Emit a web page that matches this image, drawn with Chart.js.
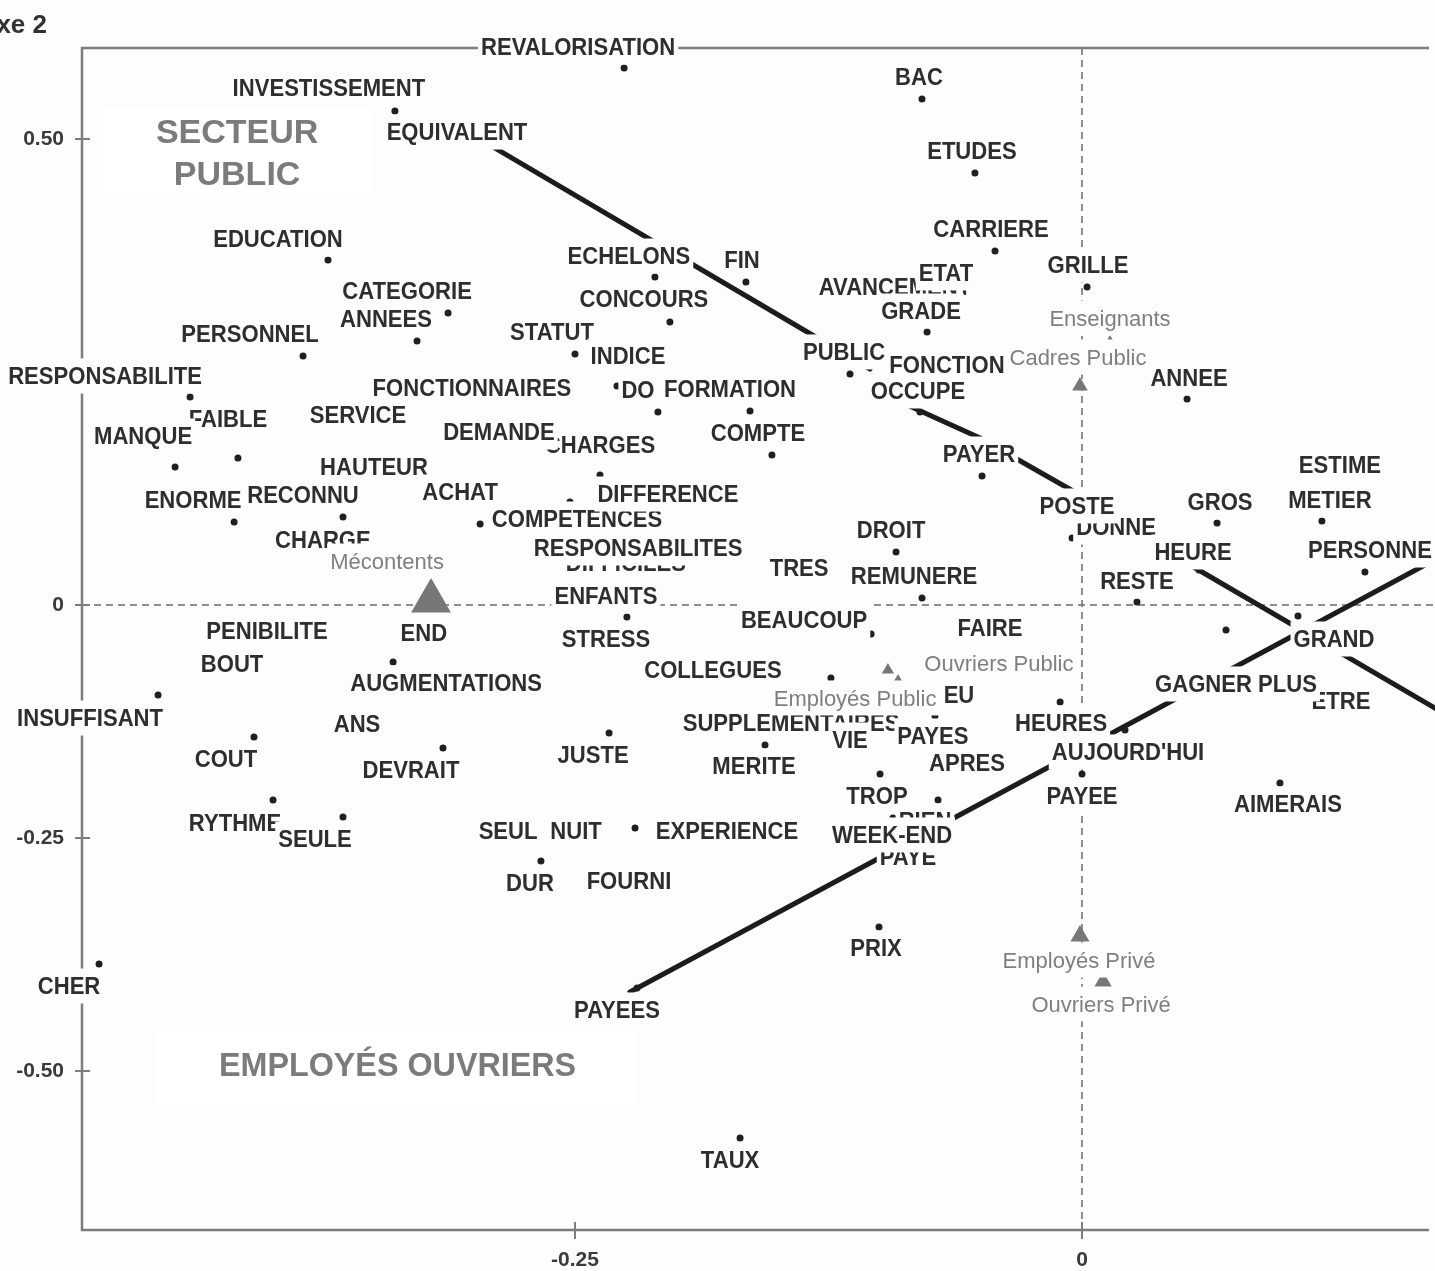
<!DOCTYPE html>
<html lang="fr">
<head>
<meta charset="utf-8">
<title>Axe 2</title>
<script src="https://cdn.jsdelivr.net/npm/chart.js@4.4.1/dist/chart.umd.min.js"></script>
<style>
  html, body { margin: 0; padding: 0; background: #fdfdfd; }
  #plan { display: block; }
</style>
</head>
<body>
<canvas id="plan" width="1435" height="1271"></canvas>
<script>
// words of the factorial plane (coordinates on axis 1 / axis 2), in drawing order
const words = [
  "REVALORISATION", "INVESTISSEMENT", "EQUIVALENT", "EDUCATION", "CATEGORIE", "ANNEES",
  "PERSONNEL", "RESPONSABILITE", "FAIBLE", "MANQUE", "ENORME", "RECONNU", "SERVICE",
  "HAUTEUR", "ACHAT", "CHARGE", "FONCTIONNAIRES", "CHARGES", "DEMANDE", "COMPETENCES",
  "DIFFERENCE", "DIFFICILES", "RESPONSABILITES", "ENFANTS", "STRESS", "STATUT", "INDICE",
  "ECHELONS", "CONCOURS", "FIN", "DO", "FORMATION", "COMPTE", "AVANCEMENT", "ETAT", "GRADE",
  "PUBLIC", "FONCTION", "OCCUPE", "PAYER", "BAC", "ETUDES", "CARRIERE", "GRILLE", "ANNEE",
  "DONNE", "POSTE", "GROS", "ESTIME", "METIER", "PERSONNE", "HEURE", "RESTE", "GRAND",
  "ETRE", "GAGNER PLUS", "HEURES", "AUJOURD'HUI", "PAYEE", "AIMERAIS", "FAIRE", "REMUNERE",
  "DROIT", "TRES", "BEAUCOUP", "COLLEGUES", "SUPPLEMENTAIRES", "EU", "VIE", "MERITE",
  "PAYES", "APRES", "TROP", "RIEN", "PAYE", "WEEK-END", "PRIX", "PAYEES", "TAUX", "SEUL",
  "NUIT", "EXPERIENCE", "DUR", "FOURNI", "JUSTE", "DEVRAIT", "ANS", "AUGMENTATIONS", "END",
  "PENIBILITE", "BOUT", "INSUFFISANT", "COUT", "RYTHME", "SEULE", "CHER"
];
const wordX = [
  -0.2258, -0.3388, -0.3082, -0.3718, -0.3126, -0.3279,
  -0.3841, -0.4398, -0.4162, -0.4472, -0.4181, -0.3644, -0.3570,
  -0.3491, -0.2968, -0.3743, -0.3008, -0.2377, -0.2875, -0.2490,
  -0.2525, -0.2249, -0.2189, -0.2244, -0.2347, -0.2500, -0.2293,
  -0.2106, -0.2032, -0.1657, -0.2091, -0.1637, -0.1529, -0.0932, -0.0671, -0.0764,
  -0.1144, -0.0666, -0.0799, -0.0493, -0.0789, -0.0528, -0.0429, 0.0025, 0.0518,
  -0.0049, -0.0025, 0.0666, 0.1272, 0.1183, 0.1395, 0.0577, 0.0271, 0.1065,
  0.1277, 0.0710, -0.0108, 0.0212, 0.0000, 0.0976, -0.0454, -0.0789,
  -0.0917, -0.1395, -0.1040, -0.1238, -0.1563, -0.0725, -0.1144, -0.1617,
  -0.0735, -0.0567, -0.0996, -0.0710, -0.0858, -0.0932, -0.1001, -0.2194, -0.1686, -0.2830,
  -0.2495, -0.2204, -0.2668, -0.2234, -0.2332, -0.3151, -0.3575, -0.3397, -0.3245,
  -0.4019, -0.4191, -0.4556, -0.4083, -0.3989, -0.3644, -0.4847
];
const wordY = [
  0.5762, 0.5300, 0.5064, 0.3702, 0.3133, 0.2833,
  0.2672, 0.2232, 0.1577, 0.1481, 0.0891, 0.0944, 0.2028,
  0.1470, 0.0869, 0.0687, 0.2318, 0.1395, 0.1845, 0.0912,
  0.1105, 0.0440, 0.0601, -0.0129, -0.0376, 0.2693, 0.2350,
  0.3519, 0.3036, 0.3466, 0.2071, 0.2082, 0.1609, 0.3401, 0.3552, 0.2929,
  0.2479, 0.2564, 0.2071, 0.1384, 0.5429, 0.4635, 0.3798, 0.3412, 0.2210,
  0.0719, 0.1052, 0.0880, 0.1491, 0.0901, 0.0354, 0.0376, 0.0032, -0.0118,
  -0.1041, -0.0268, -0.1041, -0.1341, -0.1813, -0.1910, -0.0258, 0.0075,
  0.0569, 0.0386, -0.0311, -0.0783, -0.1502, -0.1191, -0.1459, -0.1738,
  -0.1416, -0.1706, -0.1813, -0.2092, -0.2715, -0.2285, -0.3455, -0.4109, -0.5719, -0.2436,
  -0.2436, -0.2393, -0.2747, -0.2972, -0.1373, -0.1534, -0.1288, -0.0612, -0.0311,
  -0.0290, -0.0644, -0.0966, -0.1416, -0.2092, -0.2275, -0.3852
];
// where each word's label sits relative to its point (pixels)
const labelShift = [
  [-46, -21], [-66, -23], [0, -1], [-50, -21], [-41, -22], [-31, -22],
  [-53, -22], [-85, -21], [-10, -39], [-32, -31], [-41, -22], [-40, -22], [0, -1],
  [0, -1], [-20, -32], [0, -1], [0, -1], [0, -30], [0, -1], [0, -1],
  [98, -8], [0, -1], [0, -1], [-21, -21], [0, -1], [-23, -22], [11, -30],
  [-26, -21], [-26, -23], [-4, -22], [-20, -22], [-20, -22], [-14, -22], [2, -1], [0, -1], [-6, -21],
  [-6, -22], [0, -1], [-2, -21], [-3, -22], [-3, -22], [-3, -22], [-4, -22], [1, -22], [2, -21],
  [44, -11], [0, -1], [3, -21], [0, -1], [8, -21], [5, -22], [-6, -18], [0, -21], [36, 23],
  [0, -1], [10, 54], [1, 21], [3, 22], [0, 22], [8, 21], [0, -1], [-8, -22],
  [-5, -22], [0, -1], [-67, -14], [-118, -8], [26, -22], [24, -21], [0, -1], [0, -1],
  [0, -1], [0, -1], [-3, 22], [-13, 21], [0, -1], [-1, 17], [-3, 21], [-20, 22], [-10, 22], [0, -1],
  [0, -1], [92, 3], [-11, 22], [0, -1], [-16, 22], [-32, 22], [0, -1], [53, 21], [0, -1],
  [0, -1], [0, -1], [-68, 23], [-28, 22], [-38, 23], [-28, 22], [-30, 22]
];

// supplementary points: groups of respondents
const groups = ["Mécontents", "Enseignants", "Cadres Public", "Ouvriers Public", "Employés Public", "Employés Privé", "Ouvriers Privé"];
const groupX = [-0.3210, 0.0138, -0.0010, -0.0957, -0.0907, -0.0010, 0.0104];
const groupY = [0.0043, 0.2822, 0.2350, -0.0697, -0.0815, -0.3552, -0.4050];
const groupSize = [23, 7, 9, 7, 7, 11, 11];
const groupShift = [[-44, -40], [0, -24], [-2, -29], [111, -7], [-43, 17], [-1, 24], [-2, 21.5]];

// hand drawn trend strokes
const equivalentPublicX = [-0.2894, -0.1045];
const equivalentPublicY = [0.4903, 0.2532];
const occupePosteX = [-0.0873, -0.0503, -0.0010];
const occupePosteY = [0.2157, 0.1792, 0.1180];
const heureEtreX = [0.0533, 0.1790];
const heureEtreY = [0.0429, -0.1170];
const payeesPersonneX = [-0.2229, 0.1691];
const payeesPersonneY = [-0.4152, 0.0429];

// axes
const xTicks = [-0.25, 0];
const yTicks = [0.5, 0.25, 0, -0.25, -0.5];
const xMin = -0.4931, xMax = 0.17406;
const yMin = -0.6706, yMax = 0.59764;

const paper = "#fdfdfd";
const family = '"Liberation Sans", Arial, sans-serif';

function pts(xs, ys) {
  return xs.map((v, i) => ({ x: v, y: ys[i] }));
}

function tag(ctx, text, cx, cy, font, color, sx, boxH) {
  ctx.font = font;
  const w = ctx.measureText(text).width * sx;
  ctx.fillStyle = paper;
  ctx.fillRect(cx - w / 2 - 3, cy - boxH / 2, w + 6, boxH);
  ctx.save();
  ctx.translate(cx, cy + 1.5);
  ctx.scale(sx, 1);
  ctx.fillStyle = color;
  ctx.textAlign = "center";
  ctx.textBaseline = "middle";
  ctx.fillText(text, 0, 0);
  ctx.restore();
}

function seg(ctx, x1, y1, x2, y2) {
  ctx.beginPath();
  ctx.moveTo(x1, y1);
  ctx.lineTo(x2, y2);
  ctx.stroke();
}

// frame, dashed origin lines and crossing tick marks
const framePlugin = {
  id: "frame",
  beforeDatasetsDraw(chart) {
    const { ctx, chartArea: a, scales: { x, y } } = chart;
    const x0 = x.getPixelForValue(0), y0 = y.getPixelForValue(0);
    ctx.save();
    ctx.strokeStyle = "#6a6a6a";
    ctx.lineWidth = 1.5;
    ctx.setLineDash([7, 5]);
    seg(ctx, a.left, y0, a.right, y0);
    seg(ctx, x0, a.top, x0, a.bottom);
    ctx.setLineDash([]);
    ctx.strokeStyle = "#7d7d7d";
    ctx.lineWidth = 2.5;
    ctx.beginPath();
    ctx.moveTo(a.right - 6, a.top);
    ctx.lineTo(a.left, a.top);
    ctx.lineTo(a.left, a.bottom);
    ctx.lineTo(a.right - 6, a.bottom);
    ctx.stroke();
    ctx.lineWidth = 2;
    yTicks.forEach(v => {
      const py = y.getPixelForValue(v);
      seg(ctx, a.left - 7, py, a.left + 8, py);
    });
    xTicks.forEach(v => {
      const px = x.getPixelForValue(v);
      seg(ctx, px, a.bottom - 8, px, a.bottom + 9);
    });
    ctx.restore();
  }
};

// word labels, group labels, quadrant titles, axis name
const labelPlugin = {
  id: "labels",
  afterDatasetsDraw(chart) {
    const { ctx, scales: { x, y } } = chart;
    ctx.save();

    // quadrant titles
    let cx = x.getPixelForValue(-0.4176), cy = y.getPixelForValue(0.4882);
    ctx.fillStyle = "#ffffff";
    ctx.fillRect(cx - 137, cy - 43, 274, 86);
    tag(ctx, "SECTEUR", cx + 2, cy - 18, "bold 34px " + family, "#7b7b7b", 1, 0);
    tag(ctx, "PUBLIC", cx + 2, cy + 24, "bold 34px " + family, "#7b7b7b", 1, 0);
    cx = x.getPixelForValue(-0.3375); cy = y.getPixelForValue(-0.4962);
    ctx.fillStyle = "#ffffff";
    ctx.fillRect(cx - 240, cy - 37, 479, 75);
    tag(ctx, "EMPLOYÉS OUVRIERS", cx, cy - 2, "bold 34px " + family, "#7b7b7b", 0.95, 0);

    words.forEach((w, i) => {
      const px = x.getPixelForValue(wordX[i]) + labelShift[i][0];
      const py = y.getPixelForValue(wordY[i]) + labelShift[i][1];
      tag(ctx, w, px, py, "bold 23px " + family, "#2e2e2e", 0.96, 35);
    });

    groups.forEach((g, i) => {
      const px = x.getPixelForValue(groupX[i]) + groupShift[i][0];
      const py = y.getPixelForValue(groupY[i]) + groupShift[i][1];
      tag(ctx, g, px, py, "22px " + family, "#7f7f7f", 1, 35);
    });

    ctx.font = "bold 26px " + family;
    ctx.fillStyle = "#333333";
    ctx.textAlign = "right";
    ctx.textBaseline = "middle";
    ctx.fillText("Axe 2", 47, 26);
    ctx.restore();
  }
};

const strokeStyle = {
  type: "line",
  showLine: true,
  borderColor: "#1c1c1c",
  borderWidth: 5,
  borderCapStyle: "round",
  pointRadius: 0,
  fill: false,
  tension: 0
};

new Chart(document.getElementById("plan"), {
  type: "scatter",
  data: {
    datasets: [
      {
        label: "Mots",
        data: pts(wordX, wordY),
        pointRadius: 3.5,
        pointHoverRadius: 3.5,
        backgroundColor: "#1f1f1f",
        borderWidth: 0
      },
      {
        label: "Groupes",
        data: pts(groupX, groupY),
        pointStyle: "triangle",
        pointRadius: groupSize,
        pointHoverRadius: groupSize,
        backgroundColor: "#777777",
        borderWidth: 0
      },
      Object.assign({ label: "a", data: pts(equivalentPublicX, equivalentPublicY) }, strokeStyle),
      Object.assign({ label: "b", data: pts(occupePosteX, occupePosteY) }, strokeStyle),
      Object.assign({ label: "c", data: pts(heureEtreX, heureEtreY) }, strokeStyle),
      Object.assign({ label: "d", data: pts(payeesPersonneX, payeesPersonneY) }, strokeStyle)
    ]
  },
  options: {
    responsive: false,
    animation: false,
    devicePixelRatio: 1,
    layout: { autoPadding: false, padding: { top: 48, left: 0, right: 0, bottom: 0 } },
    plugins: {
      legend: { display: false },
      tooltip: { enabled: false }
    },
    scales: {
      x: {
        type: "linear",
        min: xMin,
        max: xMax,
        afterBuildTicks: axis => { axis.ticks = xTicks.map(v => ({ value: v })); },
        afterFit: axis => { axis.height = 41; axis.paddingLeft = 0; axis.paddingRight = 0; },
        grid: { display: false, drawTicks: false },
        border: { display: false },
        ticks: {
          autoSkip: false,
          maxRotation: 0,
          padding: 18,
          color: "#3a3a3a",
          font: { family: family, size: 21, weight: "bold" },
          callback: v => (v === 0 ? "0" : v.toFixed(2))
        }
      },
      y: {
        type: "linear",
        min: yMin,
        max: yMax,
        afterBuildTicks: axis => { axis.ticks = yTicks.map(v => ({ value: v })); },
        afterFit: axis => { axis.width = 82; axis.paddingTop = 0; axis.paddingBottom = 0; },
        grid: { display: false, drawTicks: false },
        border: { display: false },
        ticks: {
          autoSkip: false,
          padding: 18,
          color: "#3a3a3a",
          font: { family: family, size: 21, weight: "bold" },
          callback: v => (v === 0 ? "0" : v.toFixed(2))
        }
      }
    }
  },
  plugins: [framePlugin, labelPlugin]
});
</script>
</body>
</html>
